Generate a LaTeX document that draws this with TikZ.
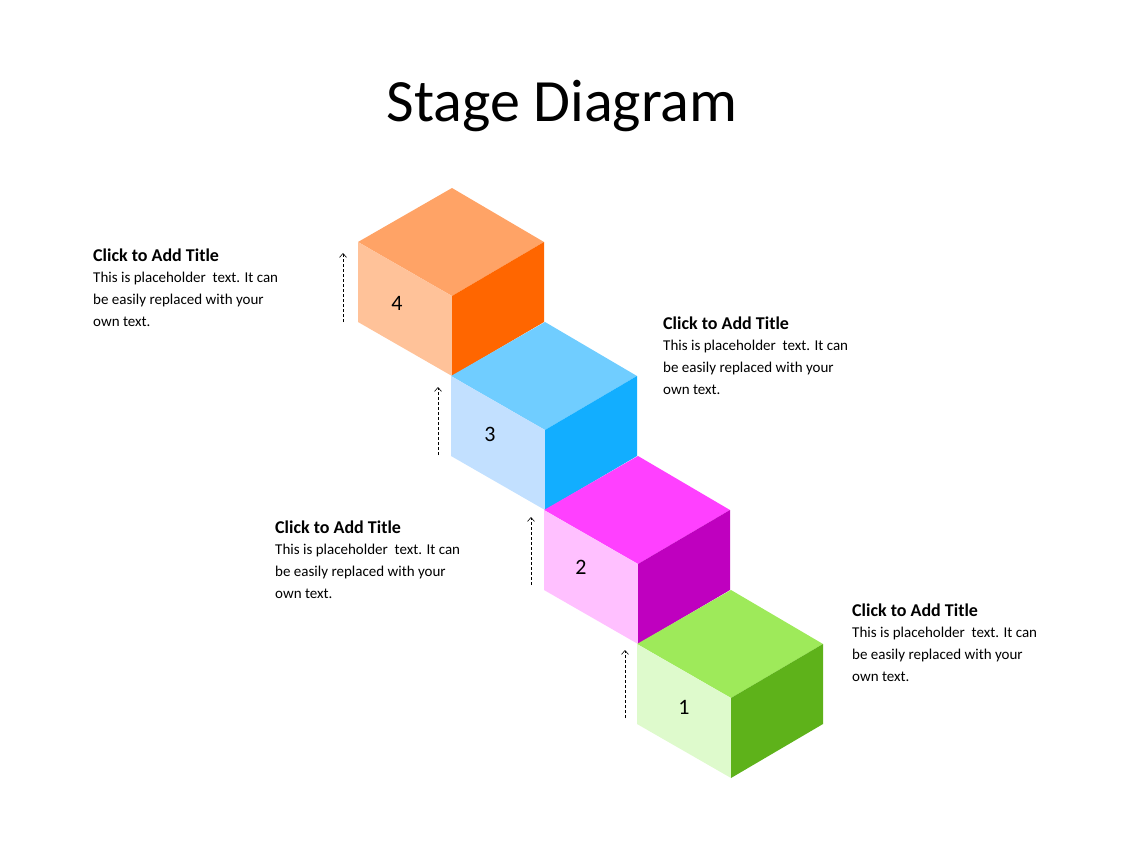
\documentclass[tikz,border=0pt]{standalone}
\usepackage{fontspec}
\setmainfont{Carlito}
\usetikzlibrary{arrows.meta}
\definecolor{oT}{HTML}{FFA366}\definecolor{oL}{HTML}{FFC299}\definecolor{oR}{HTML}{FF6600}
\definecolor{bT}{HTML}{70CDFF}\definecolor{bL}{HTML}{C2E0FF}\definecolor{bR}{HTML}{12AEFF}
\definecolor{mT}{HTML}{FF40FF}\definecolor{mL}{HTML}{FFC0FF}\definecolor{mR}{HTML}{BF00BF}
\definecolor{gT}{HTML}{9EEA5A}\definecolor{gL}{HTML}{DEFACC}\definecolor{gR}{HTML}{5EB21A}
\tikzset{
 upar/.style={densely dashed,-{Straight Barb[length=4pt,width=7pt]},line width=0.6pt},
 ttl/.style={anchor=base west,inner sep=0pt,font=\fontsize{18}{22}\selectfont\bfseries},
 bdy/.style={anchor=north west,inner sep=0pt,align=left,font=\fontsize{15}{22}\selectfont},
 num/.style={font=\fontsize{22}{26}\selectfont}
}
\newcommand{\mycube}[5]{% x,y of top vertex, top,left,right colours
 \fill[#3] (#1,-#2) -- ++(-94,-54) -- ++(94,-54) -- ++(92,54) -- cycle;
 \fill[#4] (#1-94,-#2-54) -- ++(94,-54) -- ++(0,-80) -- ++(-94,54) -- cycle;
 \fill[#5] (#1,-#2-108) -- ++(92,54) -- ++(0,-80) -- ++(-92,-54) -- cycle;
}
\begin{document}
\begin{tikzpicture}[x=1pt,y=1pt]
\useasboundingbox (0,0) rectangle (1128,-846);
\node (title) at (562,-106) {\fontsize{60}{66}\selectfont Stage Diagram};
\mycube{452}{188}{oT}{oL}{oR}
\mycube{545}{322}{bT}{bL}{bR}
\mycube{638}{456}{mT}{mL}{mR}
\mycube{731}{590}{gT}{gL}{gR}
\node[num] (n4) at (397,-303) {4};
\node[num] (n3) at (490,-434) {3};
\node[num] (n2) at (581,-567) {2};
\node[num] (n1) at (684,-707) {1};
\coordinate (a4s) at (343,-322); \coordinate (a4e) at (343,-253);
\coordinate (a3s) at (438,-455); \coordinate (a3e) at (438,-387);
\coordinate (a2s) at (531,-585); \coordinate (a2e) at (531,-517);
\coordinate (a1s) at (625,-718); \coordinate (a1e) at (625,-650);
\draw[upar] (a4s) -- (a4e);
\draw[upar] (a3s) -- (a3e);
\draw[upar] (a2s) -- (a2e);
\draw[upar] (a1s) -- (a1e);
\node[ttl] (t4) at (93,-261) {Click to Add Title};
\node[bdy] (b4) at (93,-272) {This is placeholder\ \ text. It can\\be easily replaced with your\\own text.};
\node[ttl] (t3) at (663,-329) {Click to Add Title};
\node[bdy] (b3) at (663,-340) {This is placeholder\ \ text. It can\\be easily replaced with your\\own text.};
\node[ttl] (t2) at (275,-533) {Click to Add Title};
\node[bdy] (b2) at (275,-544) {This is placeholder\ \ text. It can\\be easily replaced with your\\own text.};
\node[ttl] (t1) at (852,-616) {Click to Add Title};
\node[bdy] (b1) at (852,-627) {This is placeholder\ \ text. It can\\be easily replaced with your\\own text.};
\end{tikzpicture}
\end{document}
